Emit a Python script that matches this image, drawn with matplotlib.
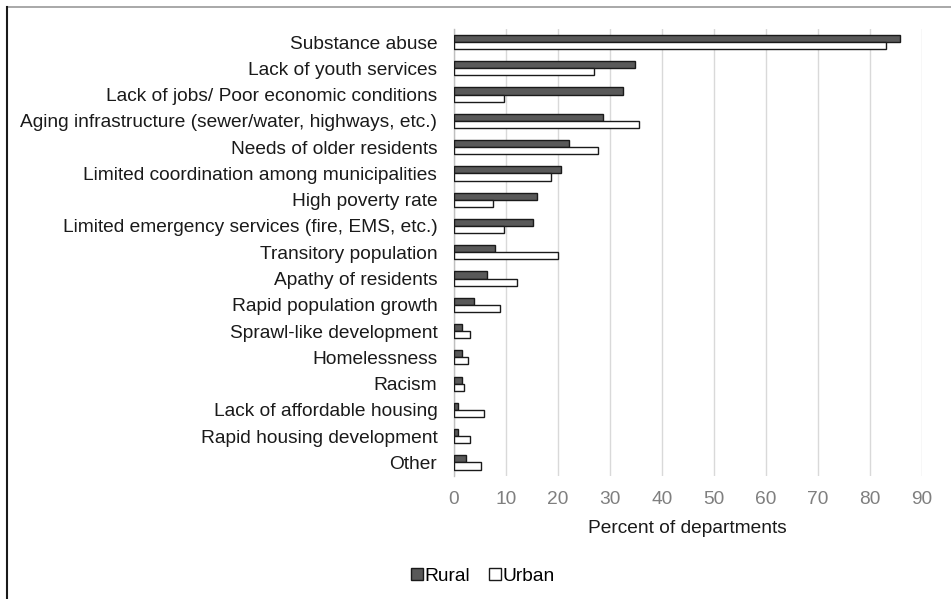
import matplotlib
matplotlib.use("Agg")
import matplotlib.pyplot as plt
import numpy as np
from matplotlib.lines import Line2D

plt.rcParams['font.family'] = ['Liberation Sans', 'DejaVu Sans']

categories = [
    "Substance abuse",
    "Lack of youth services",
    "Lack of jobs/ Poor economic conditions",
    "Aging infrastructure (sewer/water, highways, etc.)",
    "Needs of older residents",
    "Limited coordination among municipalities",
    "High poverty rate",
    "Limited emergency services (fire, EMS, etc.)",
    "Transitory population",
    "Apathy of residents",
    "Rapid population growth",
    "Sprawl-like development",
    "Homelessness",
    "Racism",
    "Lack of affordable housing",
    "Rapid housing development",
    "Other",
]
rural = [85.8, 34.8, 32.5, 28.6, 22.2, 20.6, 15.9, 15.2, 7.8, 6.3, 3.9, 1.5, 1.5, 1.5, 0.7, 0.7, 2.3]
urban = [83.2, 27.0, 9.7, 35.6, 27.7, 18.7, 7.6, 9.7, 20.0, 12.2, 8.9, 3.1, 2.6, 2.0, 5.7, 3.1, 5.2]
xticks = [0, 10, 20, 30, 40, 50, 60, 70, 80, 90]

FS = 13.8

fig = plt.figure(figsize=(9.51, 5.99), dpi=100)
ax = fig.add_axes([454 / 951, 1 - 475.6 / 599, (921.7 - 454) / 951, (475.6 - 28.9) / 599])

y = np.arange(len(categories))
h = 0.27
ax.barh(y - h / 2, rural, height=h, color="#595959", edgecolor="#1a1a1a", linewidth=1.0, label="Rural", zorder=3)
ax.barh(y + h / 2, urban, height=h, color="white", edgecolor="#1a1a1a", linewidth=1.0, label="Urban", zorder=3)

ax.set_ylim(len(categories) - 0.5, -0.5)
ax.set_xlim(0, 90)
ax.set_xticks(xticks)
ax.set_yticks(y)
ax.set_yticklabels(categories, fontsize=FS, color="#1a1a1a")
ax.tick_params(axis="y", length=0, pad=12)
ax.tick_params(axis="x", length=0, pad=11, labelsize=FS, labelcolor="#7f7f7f")
ax.xaxis.grid(True, color="#d9d9d9", linewidth=1.0, zorder=0)
ax.set_axisbelow(True)
for s in ["top", "right", "bottom"]:
    ax.spines[s].set_visible(False)
ax.spines["left"].set_color("#bfbfbf")
ax.spines["left"].set_linewidth(1.0)
ax.set_xlabel("Percent of departments", fontsize=FS, color="#1a1a1a", labelpad=9)

handles = [
    Line2D([], [], marker="s", linestyle="none", markersize=9, markerfacecolor="#595959", markeredgecolor="#1a1a1a"),
    Line2D([], [], marker="s", linestyle="none", markersize=9, markerfacecolor="white", markeredgecolor="#1a1a1a"),
]
fig.legend(handles, ["Rural", "Urban"], loc="center", bbox_to_anchor=(483 / 951, 1 - 576 / 599),
           ncol=2, frameon=False, fontsize=FS, handlelength=0.6, handletextpad=0.1,
           columnspacing=1.0)

# outer frame of the figure
fig.add_artist(Line2D([7 / 951, 1], [1 - 7 / 599, 1 - 7 / 599], transform=fig.transFigure, color="#9a9a9a", linewidth=1.2))
fig.add_artist(Line2D([7 / 951, 7 / 951], [0, 1 - 7 / 599], transform=fig.transFigure, color="#1a1a1a", linewidth=1.5))

fig.savefig("out.png", dpi=100)
